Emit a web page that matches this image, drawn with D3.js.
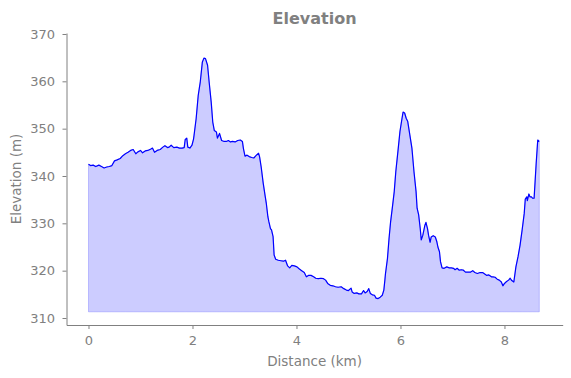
<!DOCTYPE html>
<html>
<head>
<meta charset="utf-8">
<script src="https://cdn.jsdelivr.net/npm/d3@7"></script>
<style>
  body { margin: 0; background: white; }
  text { font-family: "DejaVu Sans", sans-serif; }
</style>
</head>
<body>
<div id="container"></div>
<script>
/* CONSTANTS AND GLOBALS */
const width = 571;
const height = 378;
const margin = {top: 33, bottom: 53, left: 66.5, right: 8.3};

/* DATA */
const distanceKm = [
  0.00, 0.04, 0.09, 0.14, 0.20, 0.25, 0.30, 0.35, 0.40, 0.45,
  0.50, 0.55, 0.61, 0.66, 0.71, 0.76, 0.81, 0.86, 0.91, 0.95,
  1.00, 1.04, 1.09, 1.14, 1.20, 1.23, 1.27, 1.32, 1.38, 1.43,
  1.47, 1.52, 1.55, 1.59, 1.64, 1.70, 1.75, 1.80, 1.84, 1.86,
  1.89, 1.91, 1.95, 1.99, 2.02, 2.03, 2.07, 2.11, 2.15, 2.19,
  2.22, 2.25, 2.29, 2.32, 2.36, 2.39, 2.42, 2.46, 2.48, 2.52,
  2.56, 2.61, 2.65, 2.69, 2.73, 2.77, 2.82, 2.87, 2.92, 2.96,
  2.98, 3.01, 3.05, 3.09, 3.14, 3.18, 3.22, 3.27, 3.29, 3.32,
  3.36, 3.40, 3.42, 3.45, 3.47, 3.50, 3.52, 3.55, 3.57, 3.60,
  3.65, 3.70, 3.75, 3.79, 3.83, 3.87, 3.91, 3.96, 4.01, 4.05,
  4.10, 4.15, 4.19, 4.23, 4.28, 4.33, 4.37, 4.42, 4.47, 4.52,
  4.56, 4.60, 4.65, 4.70, 4.75, 4.80, 4.86, 4.91, 4.96, 5.00,
  5.05, 5.07, 5.11, 5.16, 5.20, 5.25, 5.29, 5.32, 5.36, 5.39,
  5.42, 5.46, 5.50, 5.53, 5.57, 5.61, 5.65, 5.68, 5.70, 5.71,
  5.75, 5.78, 5.81, 5.85, 5.88, 5.91, 5.95, 5.99, 6.03, 6.05,
  6.08, 6.11, 6.14, 6.18, 6.22, 6.26, 6.30, 6.32, 6.35, 6.38,
  6.40, 6.43, 6.47, 6.49, 6.52, 6.54, 6.57, 6.59, 6.63, 6.67,
  6.70, 6.72, 6.75, 6.77, 6.80, 6.84, 6.89, 6.94, 6.98, 7.02,
  7.05, 7.09, 7.13, 7.17, 7.21, 7.25, 7.30, 7.35, 7.39, 7.43,
  7.48, 7.53, 7.58, 7.62, 7.66, 7.70, 7.75, 7.78, 7.82, 7.86,
  7.90, 7.94, 7.97, 8.00, 8.04, 8.08, 8.11, 8.14, 8.18, 8.22,
  8.26, 8.30, 8.34, 8.38, 8.40, 8.43, 8.44, 8.47, 8.49, 8.52,
  8.54, 8.57, 8.61, 8.64, 8.67
];
const elevationM = [
  342.5, 342.2, 342.3, 342.0, 342.3, 342.0, 341.7, 341.9, 342.0, 342.2,
  343.2, 343.4, 343.7, 344.3, 344.7, 345.0, 345.4, 345.6, 344.7, 345.1,
  345.4, 344.9, 345.3, 345.4, 345.7, 345.9, 345.0, 345.4, 345.6, 346.1,
  346.4, 346.0, 346.1, 346.5, 346.0, 346.1, 345.9, 345.9, 346.0, 347.7,
  348.0, 346.1, 345.9, 346.5, 347.8, 348.6, 352.1, 357.0, 359.9, 364.1,
  364.9, 364.8, 363.4, 359.9, 355.6, 351.4, 349.6, 349.3, 348.0, 349.0,
  347.5, 347.3, 347.3, 347.5, 347.2, 347.3, 347.2, 347.5, 347.6, 347.3,
  345.8, 344.2, 344.4, 344.1, 343.9, 343.8, 344.3, 344.8, 344.1, 342.0,
  338.5, 335.6, 334.2, 331.4, 330.3, 328.9, 328.6, 327.2, 323.3, 322.4,
  322.2, 322.1, 322.0, 322.2, 321.0, 320.6, 321.1, 321.0, 320.8, 320.4,
  320.0, 319.6, 318.7, 319.0, 319.0, 318.7, 318.4, 318.3, 318.4, 318.3,
  318.0, 317.3, 316.9, 316.8, 316.6, 316.5, 316.6, 316.2, 315.9, 315.8,
  316.3, 315.5, 315.2, 315.3, 315.1, 315.1, 315.8, 315.3, 315.6, 316.2,
  315.2, 314.9, 314.8, 314.2, 314.1, 314.4, 314.8, 315.9, 318.0, 319.2,
  322.6, 326.8, 330.3, 333.9, 336.7, 340.9, 345.1, 349.4, 352.2, 353.5,
  353.3, 352.2, 351.5, 348.7, 345.9, 340.9, 336.7, 333.2, 331.8, 328.9,
  326.5, 327.5, 329.6, 330.2, 328.9, 327.5, 326.0, 327.1, 327.4, 327.1,
  326.1, 325.0, 324.0, 321.9, 320.6, 320.5, 320.8, 320.6, 320.6, 320.5,
  320.2, 320.5, 320.1, 320.2, 320.1, 319.7, 319.7, 319.7, 320.0, 319.6,
  319.4, 319.6, 319.6, 319.3, 319.0, 319.1, 318.7, 318.7, 318.6, 318.2,
  318.0, 317.6, 316.8, 317.3, 317.7, 318.0, 318.4, 317.9, 317.6, 320.8,
  322.9, 325.4, 328.6, 332.1, 335.1, 335.6, 334.8, 336.2, 335.6, 335.6,
  335.3, 335.3, 342.7, 347.6, 347.3
];
const fillBase = 311.3;
const xTicks = [0, 2, 4, 6, 8];
const yTicks = [310, 320, 330, 340, 350, 360, 370];

const data = distanceKm.map((d, i) => ({km: d, elev: elevationM[i]}));
const grey = "#808080";

/* SCALES */
const xScale = d3.scaleLinear()
  .domain([-0.423, 9.12])
  .range([margin.left, width - margin.right]);

const yScale = d3.scaleLinear()
  .domain([308.52, 370.21])
  .range([height - margin.bottom, margin.top]);

/* SVG */
const svg = d3.select("#container")
  .append("svg")
  .attr("width", width)
  .attr("height", height);

// filled area
const area = d3.area()
  .x(d => xScale(d.km))
  .y0(yScale(fillBase))
  .y1(d => yScale(d.elev));

svg.append("path")
  .datum(data)
  .attr("d", area)
  .attr("fill", "blue")
  .attr("fill-opacity", 0.2)
  .attr("stroke", "blue")
  .attr("stroke-opacity", 0.2)
  .attr("stroke-width", 1);

// line
const line = d3.line()
  .x(d => xScale(d.km))
  .y(d => yScale(d.elev));

svg.append("path")
  .datum(data)
  .attr("d", line)
  .attr("fill", "none")
  .attr("stroke", "blue")
  .attr("stroke-width", 1.2)
  .attr("stroke-linejoin", "round");

// axes
const xAxisGroup = svg.append("g")
  .attr("transform", `translate(0,${height - margin.bottom})`)
  .call(d3.axisBottom(xScale).tickValues(xTicks).tickSize(4).tickPadding(7).tickSizeOuter(0));

const yAxisGroup = svg.append("g")
  .attr("transform", `translate(${margin.left},0)`)
  .call(d3.axisLeft(yScale).tickValues(yTicks).tickSize(4).tickPadding(7.5).tickSizeOuter(0));

[xAxisGroup, yAxisGroup].forEach(g => {
  g.select(".domain").attr("stroke", grey).attr("stroke-width", 1);
  g.selectAll(".tick line").attr("stroke", grey).attr("stroke-width", 1);
  g.selectAll(".tick text")
    .attr("fill", grey)
    .style("font-size", "13px")
    .style("font-family", "DejaVu Sans, sans-serif");
});

// labels
svg.append("text")
  .attr("x", (margin.left + width - margin.right) / 2)
  .attr("y", 24)
  .attr("text-anchor", "middle")
  .attr("fill", grey)
  .style("font-size", "16px")
  .style("font-weight", "bold")
  .text("Elevation");

svg.append("text")
  .attr("x", (margin.left + width - margin.right) / 2)
  .attr("y", 366)
  .attr("text-anchor", "middle")
  .attr("fill", grey)
  .style("font-size", "13.5px")
  .text("Distance (km)");

svg.append("text")
  .attr("transform", `translate(21,179) rotate(-90)`)
  .attr("text-anchor", "middle")
  .attr("fill", grey)
  .style("font-size", "13.5px")
  .text("Elevation (m)");
</script>
</body>
</html>
